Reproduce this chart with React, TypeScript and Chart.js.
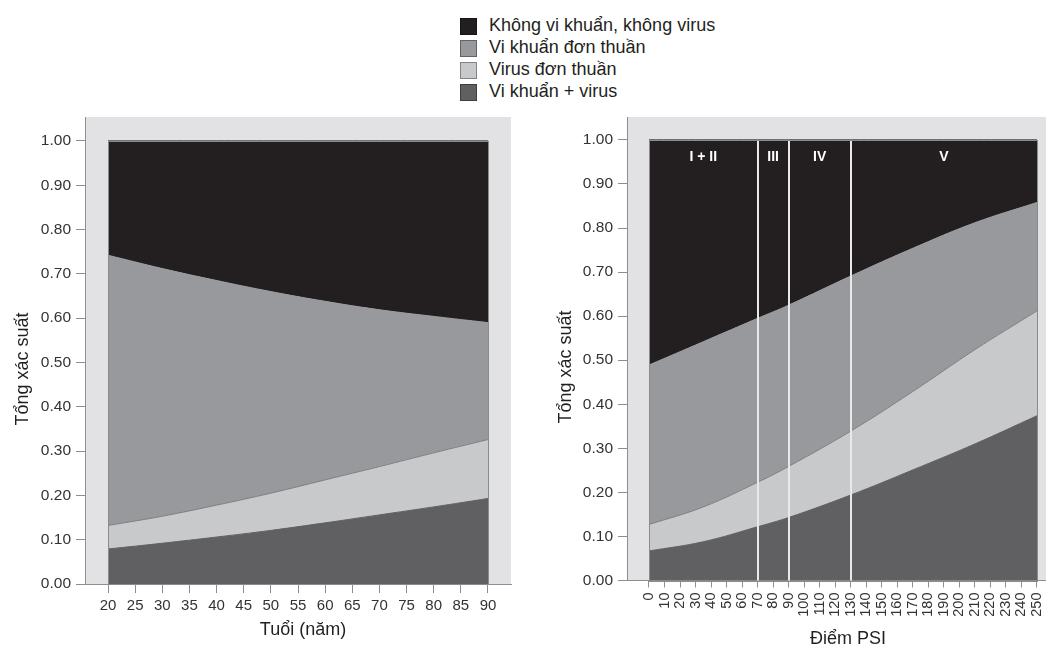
import React, { useEffect, useRef } from "react";
import { Chart, registerables } from "chart.js";

Chart.register(...registerables);

// ---- Legend / series names (top-to-bottom in legend) ----
const legendLabels = [
  "Không vi khuẩn, không virus",
  "Vi khuẩn đơn thuần",
  "Virus đơn thuần",
  "Vi khuẩn + virus",
];
const legendColors = ["#231f20", "#98999c", "#c8c9cb", "#606062"];

// ---- Left chart: age ----
const ages = [20, 30, 40, 50, 60, 70, 80, 90];
const ageBoth = [0.079, 0.092, 0.106, 0.121, 0.138, 0.156, 0.174, 0.193];
const ageVirus = [0.053, 0.061, 0.072, 0.084, 0.097, 0.109, 0.122, 0.133];
const ageBacteria = [0.61, 0.559, 0.507, 0.455, 0.403, 0.354, 0.308, 0.264];
const ageNone = [0.258, 0.288, 0.315, 0.34, 0.362, 0.381, 0.396, 0.41];
const ageTicks = [20, 25, 30, 35, 40, 45, 50, 55, 60, 65, 70, 75, 80, 85, 90];

// ---- Right chart: PSI ----
const psi = [0, 35, 70, 90, 130, 170, 210, 250];
const psiBoth = [0.067, 0.088, 0.122, 0.143, 0.194, 0.251, 0.31, 0.374];
const psiVirus = [0.06, 0.079, 0.101, 0.116, 0.145, 0.178, 0.214, 0.238];
const psiBacteria = [0.362, 0.375, 0.372, 0.366, 0.352, 0.325, 0.288, 0.246];
const psiNone = [0.511, 0.458, 0.405, 0.375, 0.309, 0.246, 0.188, 0.142];
const psiTicks = [
  0, 10, 20, 30, 40, 50, 60, 70, 80, 90, 100, 110, 120, 130, 140, 150, 160,
  170, 180, 190, 200, 210, 220, 230, 240, 250,
];
const psiClassBounds = [70, 90, 130];
const psiClassLabels = ["I + II", "III", "IV", "V"];
const psiClassCenters = [35, 80, 110, 190];

const probTicks = [0, 0.1, 0.2, 0.3, 0.4, 0.5, 0.6, 0.7, 0.8, 0.9, 1.0];

const yTitle = "Tổng xác suất";
const ageTitle = "Tuổi (năm)";
const psiTitle = "Điểm PSI";

const FONT = "'Liberation Sans', Arial, Helvetica, sans-serif";
const AXIS = "#8d8e90";
const TEXT = "#333333";
const PANEL = "#e2e2e4";

const fills = ["#606062", "#c8c9cb", "#98999c", "#231f20"];
const borders = ["#606062", "#7e7f82", "#98999c", "#231f20"];

const panelPlugin: any = {
  id: "panel",
  beforeDraw(chart: any, _a: any, o: any) {
    const { ctx, chartArea: a } = chart;
    ctx.save();
    ctx.fillStyle = o.color;
    ctx.fillRect(a.left, a.top, a.right - a.left, a.bottom - a.top);
    ctx.restore();
  },
  afterDatasetsDraw(chart: any, _a: any, o: any) {
    const { ctx } = chart;
    const x = chart.scales.x;
    const y = chart.scales.y;
    const yTop = y.getPixelForValue(1);
    const yBot = y.getPixelForValue(0);
    ctx.save();
    if (o.bounds) {
      ctx.strokeStyle = "#e9e9ea";
      ctx.lineWidth = 2;
      o.bounds.forEach((b: number) => {
        const px = Math.round(x.getPixelForValue(b));
        ctx.beginPath();
        ctx.moveTo(px, yTop);
        ctx.lineTo(px, yBot);
        ctx.stroke();
      });
      ctx.fillStyle = "#ffffff";
      ctx.font = "bold 14px " + FONT;
      ctx.textAlign = "center";
      ctx.textBaseline = "alphabetic";
      o.labels.forEach((t: string, i: number) => {
        ctx.fillText(t, x.getPixelForValue(o.centers[i]), yTop + 21);
      });
    }
    const x0 = Math.round(x.getPixelForValue(o.xFirst)) + 0.5;
    const x1 = Math.round(x.getPixelForValue(o.xLast)) + 0.5;
    ctx.strokeStyle = "#8a8b8d";
    ctx.lineWidth = 1;
    ctx.strokeRect(x0, Math.round(yTop) + 0.5, x1 - x0, Math.round(yBot) - Math.round(yTop));
    ctx.restore();
  },
  afterDraw(chart: any, _a: any, o: any) {
    const { ctx } = chart;
    ctx.save();
    ctx.fillStyle = "#231f20";
    ctx.font = "18px " + FONT;
    ctx.textAlign = "center";
    ctx.textBaseline = "alphabetic";
    ctx.translate(o.yTitleX, o.yTitleY);
    ctx.rotate(-Math.PI / 2);
    ctx.fillText(yTitle, 0, 0);
    ctx.restore();
    ctx.save();
    ctx.fillStyle = "#231f20";
    ctx.font = "18px " + FONT;
    ctx.textAlign = "center";
    ctx.textBaseline = "alphabetic";
    ctx.fillText(o.xTitle, o.xTitleX, o.xTitleY);
    ctx.restore();
  },
};

type P = {
  left: number;
  top: number;
  width: number;
  height: number;
  xs: number[];
  both: number[];
  virus: number[];
  bacteria: number[];
  none: number[];
  xMin: number;
  xMax: number;
  xTicks: number[];
  yMax: number;
  yAxisWidth: number;
  xAxisHeight: number;
  padRight: number;
  rotate: boolean;
  xFont: number;
  xTickLen: number;
  xPad: number;
  xTitle: string;
  xTitleX: number;
  xTitleY: number;
  yTitleX: number;
  yTitleY: number;
  bounds?: number[];
};

function StackChart(p: P) {
  const ref = useRef<HTMLCanvasElement>(null);
  useEffect(() => {
    const canvas = ref.current!;
    const series = [p.both, p.virus, p.bacteria, p.none];
    const datasets = series.map((vals, i) => ({
      label: legendLabels[3 - i],
      data: p.xs.map((x, j) => ({ x, y: vals[j] })),
      backgroundColor: fills[i],
      borderColor: borders[i],
      borderWidth: 1,
      fill: i === 0 ? "origin" : "-1",
      pointRadius: 0,
      pointHoverRadius: 0,
      tension: 0.4,
    }));
    const chart = new Chart(canvas, {
      type: "line",
      data: { datasets } as any,
      options: {
        animation: false,
        responsive: false,
        maintainAspectRatio: false,
        devicePixelRatio: 1,
        events: [],
        layout: { padding: { top: 17, right: p.padRight, left: 0, bottom: 0 } },
        plugins: {
          legend: { display: false },
          tooltip: { enabled: false },
          panel: {
            color: PANEL,
            xFirst: p.xs[0],
            xLast: p.xs[p.xs.length - 1],
            bounds: p.bounds,
            labels: psiClassLabels,
            centers: psiClassCenters,
            xTitle: p.xTitle,
            xTitleX: p.xTitleX,
            xTitleY: p.xTitleY,
            yTitleX: p.yTitleX,
            yTitleY: p.yTitleY,
          },
        } as any,
        scales: {
          x: {
            type: "linear",
            min: p.xMin,
            max: p.xMax,
            afterBuildTicks: (s: any) => {
              s.ticks = p.xTicks.map((v) => ({ value: v }));
            },
            afterFit: (s: any) => {
              s.height = p.xAxisHeight;
              s.paddingLeft = 0;
              s.paddingRight = 0;
              s.paddingTop = 0;
              s.paddingBottom = 0;
            },
            grid: {
              drawOnChartArea: false,
              drawTicks: true,
              tickLength: p.xTickLen,
              color: AXIS,
              lineWidth: 1,
            },
            border: { display: true, color: AXIS, width: 1 },
            ticks: {
              autoSkip: false,
              maxRotation: p.rotate ? 90 : 0,
              minRotation: p.rotate ? 90 : 0,
              padding: p.xPad,
              color: TEXT,
              font: { family: FONT, size: p.xFont },
              callback: (v: any) => String(v),
            },
          },
          y: {
            stacked: true,
            min: 0,
            max: p.yMax,
            afterBuildTicks: (s: any) => {
              s.ticks = probTicks.map((v) => ({ value: v }));
            },
            afterFit: (s: any) => {
              s.width = p.yAxisWidth;
              s.paddingLeft = 0;
              s.paddingRight = 0;
              s.paddingTop = 0;
              s.paddingBottom = 0;
            },
            grid: {
              drawOnChartArea: false,
              drawTicks: true,
              tickLength: 9,
              color: AXIS,
              lineWidth: 1,
            },
            border: { display: true, color: AXIS, width: 1 },
            ticks: {
              padding: 5,
              color: TEXT,
              font: { family: FONT, size: 15.5 },
              callback: (v: any) => Number(v).toFixed(2),
            },
          },
        },
      } as any,
      plugins: [panelPlugin],
    });
    return () => chart.destroy();
  }, []);
  return (
    <div
      style={{
        position: "absolute",
        left: p.left,
        top: p.top,
        width: p.width,
        height: p.height,
        overflow: "hidden",
      }}
    >
      <canvas
        ref={ref}
        width={p.width}
        height={p.height}
        style={{ display: "block", width: p.width, height: p.height }}
      />
    </div>
  );
}

export default function App() {
  return (
    <div
      style={{
        position: "absolute",
        left: 0,
        top: 0,
        width: 1046,
        height: 648,
        overflow: "hidden",
        background: "#ffffff",
        fontFamily: FONT,
      }}
    >
      {legendLabels.map((t, i) => (
        <React.Fragment key={t}>
          <div
            style={{
              position: "absolute",
              left: 460,
              top: 17.5 + i * 22.2,
              width: 17,
              height: 17,
              boxSizing: "border-box",
              background: legendColors[i],
              border: "1px solid rgba(0,0,0,0.35)",
            }}
          />
          <div
            style={{
              position: "absolute",
              left: 489,
              top: 13.7 + i * 22.2,
              fontSize: 18,
              lineHeight: "22px",
              color: "#231f20",
              whiteSpace: "nowrap",
            }}
          >
            {t}
          </div>
        </React.Fragment>
      ))}
      <StackChart
        left={0}
        top={100}
        width={520}
        height={548}
        xs={ages}
        both={ageBoth}
        virus={ageVirus}
        bacteria={ageBacteria}
        none={ageNone}
        xMin={15.763}
        xMax={94.237}
        xTicks={ageTicks}
        yMax={1.054}
        yAxisWidth={85}
        xAxisHeight={64}
        padRight={9}
        rotate={false}
        xFont={15}
        xTickLen={9}
        xPad={4}
        xTitle={ageTitle}
        xTitleX={303}
        xTitleY={535}
        yTitleX={28}
        yTitleY={269}
      />
      <StackChart
        left={530}
        top={100}
        width={516}
        height={548}
        xs={psi}
        both={psiBoth}
        virus={psiVirus}
        bacteria={psiBacteria}
        none={psiNone}
        xMin={-14.175}
        xMax={255.8}
        xTicks={psiTicks}
        yMax={1.052}
        yAxisWidth={97}
        xAxisHeight={67.5}
        padRight={0}
        rotate={true}
        xFont={14.5}
        xTickLen={7}
        xPad={5}
        xTitle={psiTitle}
        xTitleX={318}
        xTitleY={544}
        yTitleX={41}
        yTitleY={267}
        bounds={psiClassBounds}
      />
    </div>
  );
}
